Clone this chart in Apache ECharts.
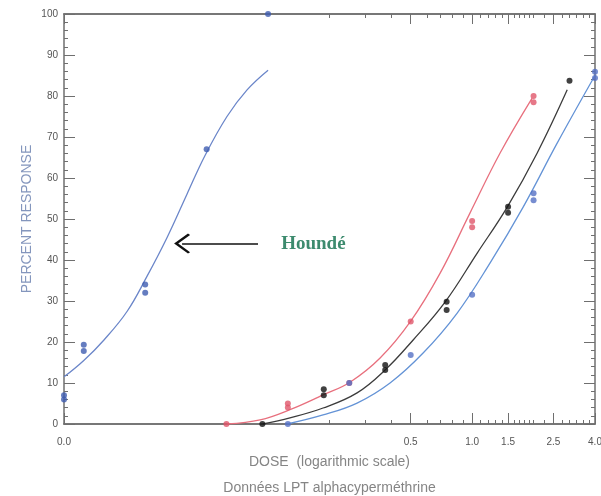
<!DOCTYPE html>
<html>
<head>
<meta charset="utf-8">
<script src="https://cdn.jsdelivr.net/npm/echarts@6/dist/echarts.min.js"></script>
<style>
html,body{margin:0;padding:0;background:#fff}
#main{width:601px;height:496px}
</style>
</head>
<body>
<div id="main"></div>
<script>
// points (dose, % response)
var houndeDose=[0.01,0.01,0.0125,0.0125,0.025,0.025,0.05,0.1];
var houndeResp=[7,6,19.3,17.8,34,32,67,100];
var redDose=[0.0625,0.125,0.125,0.25,0.5,1,1,2,2];
var redResp=[0,5,4,10,25,49.5,48,80,78.5];
var blackDose=[0.09375,0.1875,0.1875,0.375,0.375,0.75,0.75,1.5,1.5,3];
var blackResp=[0,8.5,7,14.4,13.2,29.8,27.8,53,51.5,83.7];
var blueDose=[0.125,0.25,0.5,1,2,2,4,4];
var blueResp=[0,10,16.8,31.5,56.3,54.6,85.9,84.4];

// fitted curves, traced
var houndeCurveDose=[0.01,0.0125,0.0157,0.0204,0.0255,0.032,0.04,0.0491,0.0629,0.0789,0.1];
var houndeCurveResp=[11.5,15.5,20.5,27.5,36,45.5,56,65.5,75,81.5,86.3];
var redCurveDose=[0.063,0.0914,0.128,0.186,0.252,0.354,0.497,0.697,0.977,1.371,1.968];
var redCurveResp=[0,1,3.5,7.1,10.2,16.1,24.9,36.8,51.5,66.1,79.5];
var blackCurveDose=[0.0944,0.128,0.186,0.273,0.375,0.514,0.738,1.059,1.486,2.084,2.924];
var blackCurveResp=[0,1.5,3.9,7.6,13.2,20.5,29.8,41.7,52.9,66.1,81.5];
var blueCurveDose=[0.124,0.186,0.273,0.396,0.575,0.843,1.225,1.778,2.61,4];
var blueCurveResp=[0,2.2,5.1,10,17.3,27,39.3,52.9,68.5,85];

var xLabelVals=[0.01,0.5,1,1.5,2.5,4];
var xMinorVals=[0.2,0.3,0.4,0.6,0.7,0.8,0.9,1.1,1.2,1.3,1.4,1.6,1.7,1.8,1.9,2,2.25,2.75,3,3.25,3.5,3.75];

function lg(d){ return Math.log10(d); }
function pairs(xs,ys){
  var out=[];
  for(var i=0;i<xs.length;i++) out.push([lg(xs[i]),ys[i]]);
  return out;
}

var axisColor='#6f6f6f';
var font='Liberation Sans, Arial, sans-serif';
var xMin=lg(0.01), xMax=lg(4);

function xAx(pos,vals,len,labels){
  return {
    type:'value',position:pos,min:xMin,max:xMax,
    axisLine:{show:true,onZero:false,lineStyle:{color:axisColor,width:1.5}},
    axisTick:{show:true,inside:true,length:len,customValues:vals.map(lg),lineStyle:{color:axisColor,width:1}},
    axisLabel:labels?{show:true,customValues:vals.map(lg),margin:13,color:'#555',fontSize:10,fontFamily:font,
      formatter:function(v){ return Math.pow(10,v).toFixed(1); }}:{show:false},
    splitLine:{show:false}
  };
}
function yAx(pos,labels){
  return {
    type:'value',position:pos,min:0,max:100,interval:10,
    axisLine:{show:true,onZero:false,lineStyle:{color:axisColor,width:1.5}},
    axisTick:{show:true,inside:true,length:11,lineStyle:{color:axisColor}},
    minorTick:{show:true,splitNumber:5,length:4,lineStyle:{color:axisColor}},
    axisLabel:labels?{show:true,margin:6,color:'#555',fontSize:10,fontFamily:font}:{show:false},
    splitLine:{show:false}
  };
}

var xAxes=[xAx('bottom',xLabelVals,11,true),xAx('bottom',xMinorVals,4,false),
  xAx('top',xLabelVals,10,false),xAx('top',xMinorVals,4,false)];
xAxes[0].name='DOSE  (logarithmic scale)\nDonnées LPT alphacyperméthrine';
xAxes[0].nameLocation='middle';
xAxes[0].nameGap=25;
xAxes[0].nameMoveOverlap=false;
xAxes[0].nameTextStyle={color:'#858585',fontSize:14,fontFamily:font,lineHeight:26};

var yAxes=[yAx('left',true),yAx('right',false)];
yAxes[0].name='PERCENT RESPONSE';
yAxes[0].nameLocation='middle';
yAxes[0].nameGap=30;
yAxes[0].nameMoveOverlap=false;
yAxes[0].nameTextStyle={color:'#8496bd',fontSize:14,fontFamily:font};

function curve(xs,ys,color){
  return {type:'line',data:pairs(xs,ys),showSymbol:false,smooth:0.4,
    lineStyle:{color:color,width:1.3},itemStyle:{color:color},z:2};
}
function dots(xs,ys,color){
  return {type:'scatter',data:pairs(xs,ys),symbol:'circle',symbolSize:6,itemStyle:{color:color},z:3};
}

var houndeLine=curve(houndeCurveDose,houndeCurveResp,'#6b86c9');
houndeLine.markLine={
  silent:true,animation:false,
  symbol:['none','path://M0,0 L7,8 L6,9.2 L0,2.4 L-6,9.2 L-7,8 Z'],
  symbolSize:[20,16],
  label:{show:false},
  lineStyle:{color:'#111',width:1.5,type:'solid'},
  data:[[{coord:[lg(0.0893),44]},{coord:[lg(0.0379),44]}]]
};
houndeLine.markPoint={
  silent:true,animation:false,
  data:[{coord:[lg(0.1159),44],symbol:'circle',symbolSize:0,
    label:{show:true,position:'right',distance:0,formatter:'Houndé',color:'#3d8b6e',
      fontSize:19,fontWeight:'bold',fontFamily:'Liberation Serif, DejaVu Serif, serif'}}]
};

var option={
  animation:false,
  backgroundColor:'#fff',
  grid:{left:64,right:6,top:14,bottom:72,containLabel:false,outerBoundsMode:'none'},
  xAxis:xAxes,
  yAxis:yAxes,
  series:[
    houndeLine,
    dots(houndeDose,houndeResp,'#3f5db0'),
    curve(redCurveDose,redCurveResp,'#e8707e'),
    curve(blackCurveDose,blackCurveResp,'#3c3c3c'),
    curve(blueCurveDose,blueCurveResp,'#6493d6'),
    dots(redDose,redResp,'#e0566a'),
    dots(blackDose,blackResp,'#111'),
    dots(blueDose,blueResp,'#5570c4')
  ]
};

var myChart=echarts.init(document.getElementById('main'));
myChart.setOption(option);
</script>
</body>
</html>
